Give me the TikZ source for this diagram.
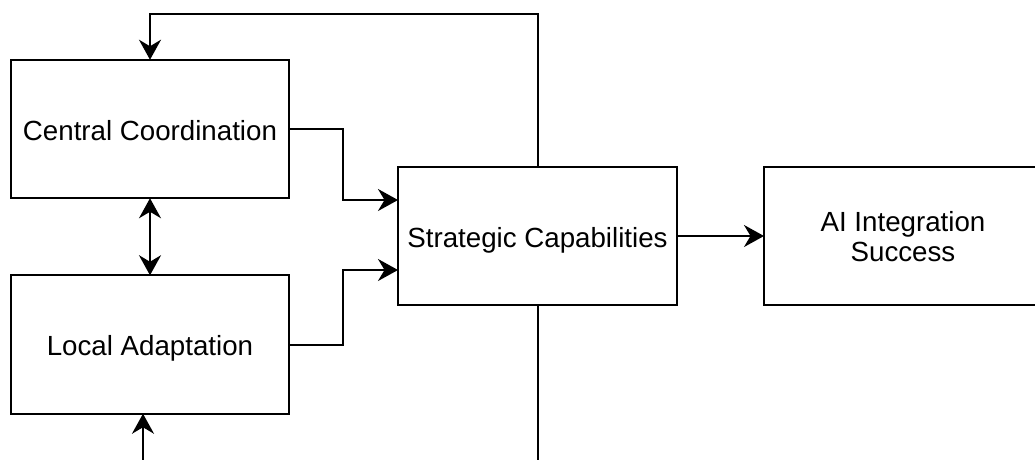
\documentclass[tikz,border=0pt]{standalone}
\usepackage{fontspec}
\setmainfont{Liberation Sans}
\usetikzlibrary{arrows.meta,calc}
\begin{document}
\begin{tikzpicture}[x=1pt,y=-1pt,
  box/.style={draw=black,line width=2pt,fill=white,inner sep=0pt,outer sep=0pt,
    minimum width=278pt,minimum height=138.5pt,align=center,
    text height=28.6pt,text depth=6pt,
    font=\fontsize{27.7}{30}\selectfont},
  link/.style={draw=black,line width=2pt},
  arr/.style={link,-{Stealth[length=20pt,width=22pt,inset=6.5pt]}},
  biarr/.style={link,{Stealth[length=20pt,width=22pt,inset=6.5pt]}-{Stealth[length=20pt,width=22pt,inset=6.5pt]}}]
\clip (0,0) rectangle (1035,459);
\fill[white] (0,0) rectangle (1035,459);

% blocks
\node[box] (central) at (150,129) {Central Coordination};
\node[box] (local) at (150,344.5) {Local Adaptation};
\node[box,minimum width=279pt] (strat) at (537.5,236) {Strategic Capabilities};
\node[box,text height=57.4pt] (ai) at (903,236) {AI Integration\\Success};

% waypoints
\coordinate (top) at (537.5,13.5);
\coordinate (jA) at (343,200);
\coordinate (jB) at (343,270);
\coordinate (botS) at (537.5,470);
\coordinate (botL) at (143,470);

% connectors
\draw[arr] (central.east) -| (jA) -- (jA -| strat.west);
\draw[arr] (local.east) -| (jB) -- (jB -| strat.west);
\draw[arr] (strat.east) -- (ai.west);
\draw[biarr] (central.south) -- (local.north);
\draw[arr] (strat.north) -- (top) -| (central.north);
\draw[link] (strat.south) -- (botS);
\draw[arr] (botL) -- (botL |- local.south);
\end{tikzpicture}
\end{document}
